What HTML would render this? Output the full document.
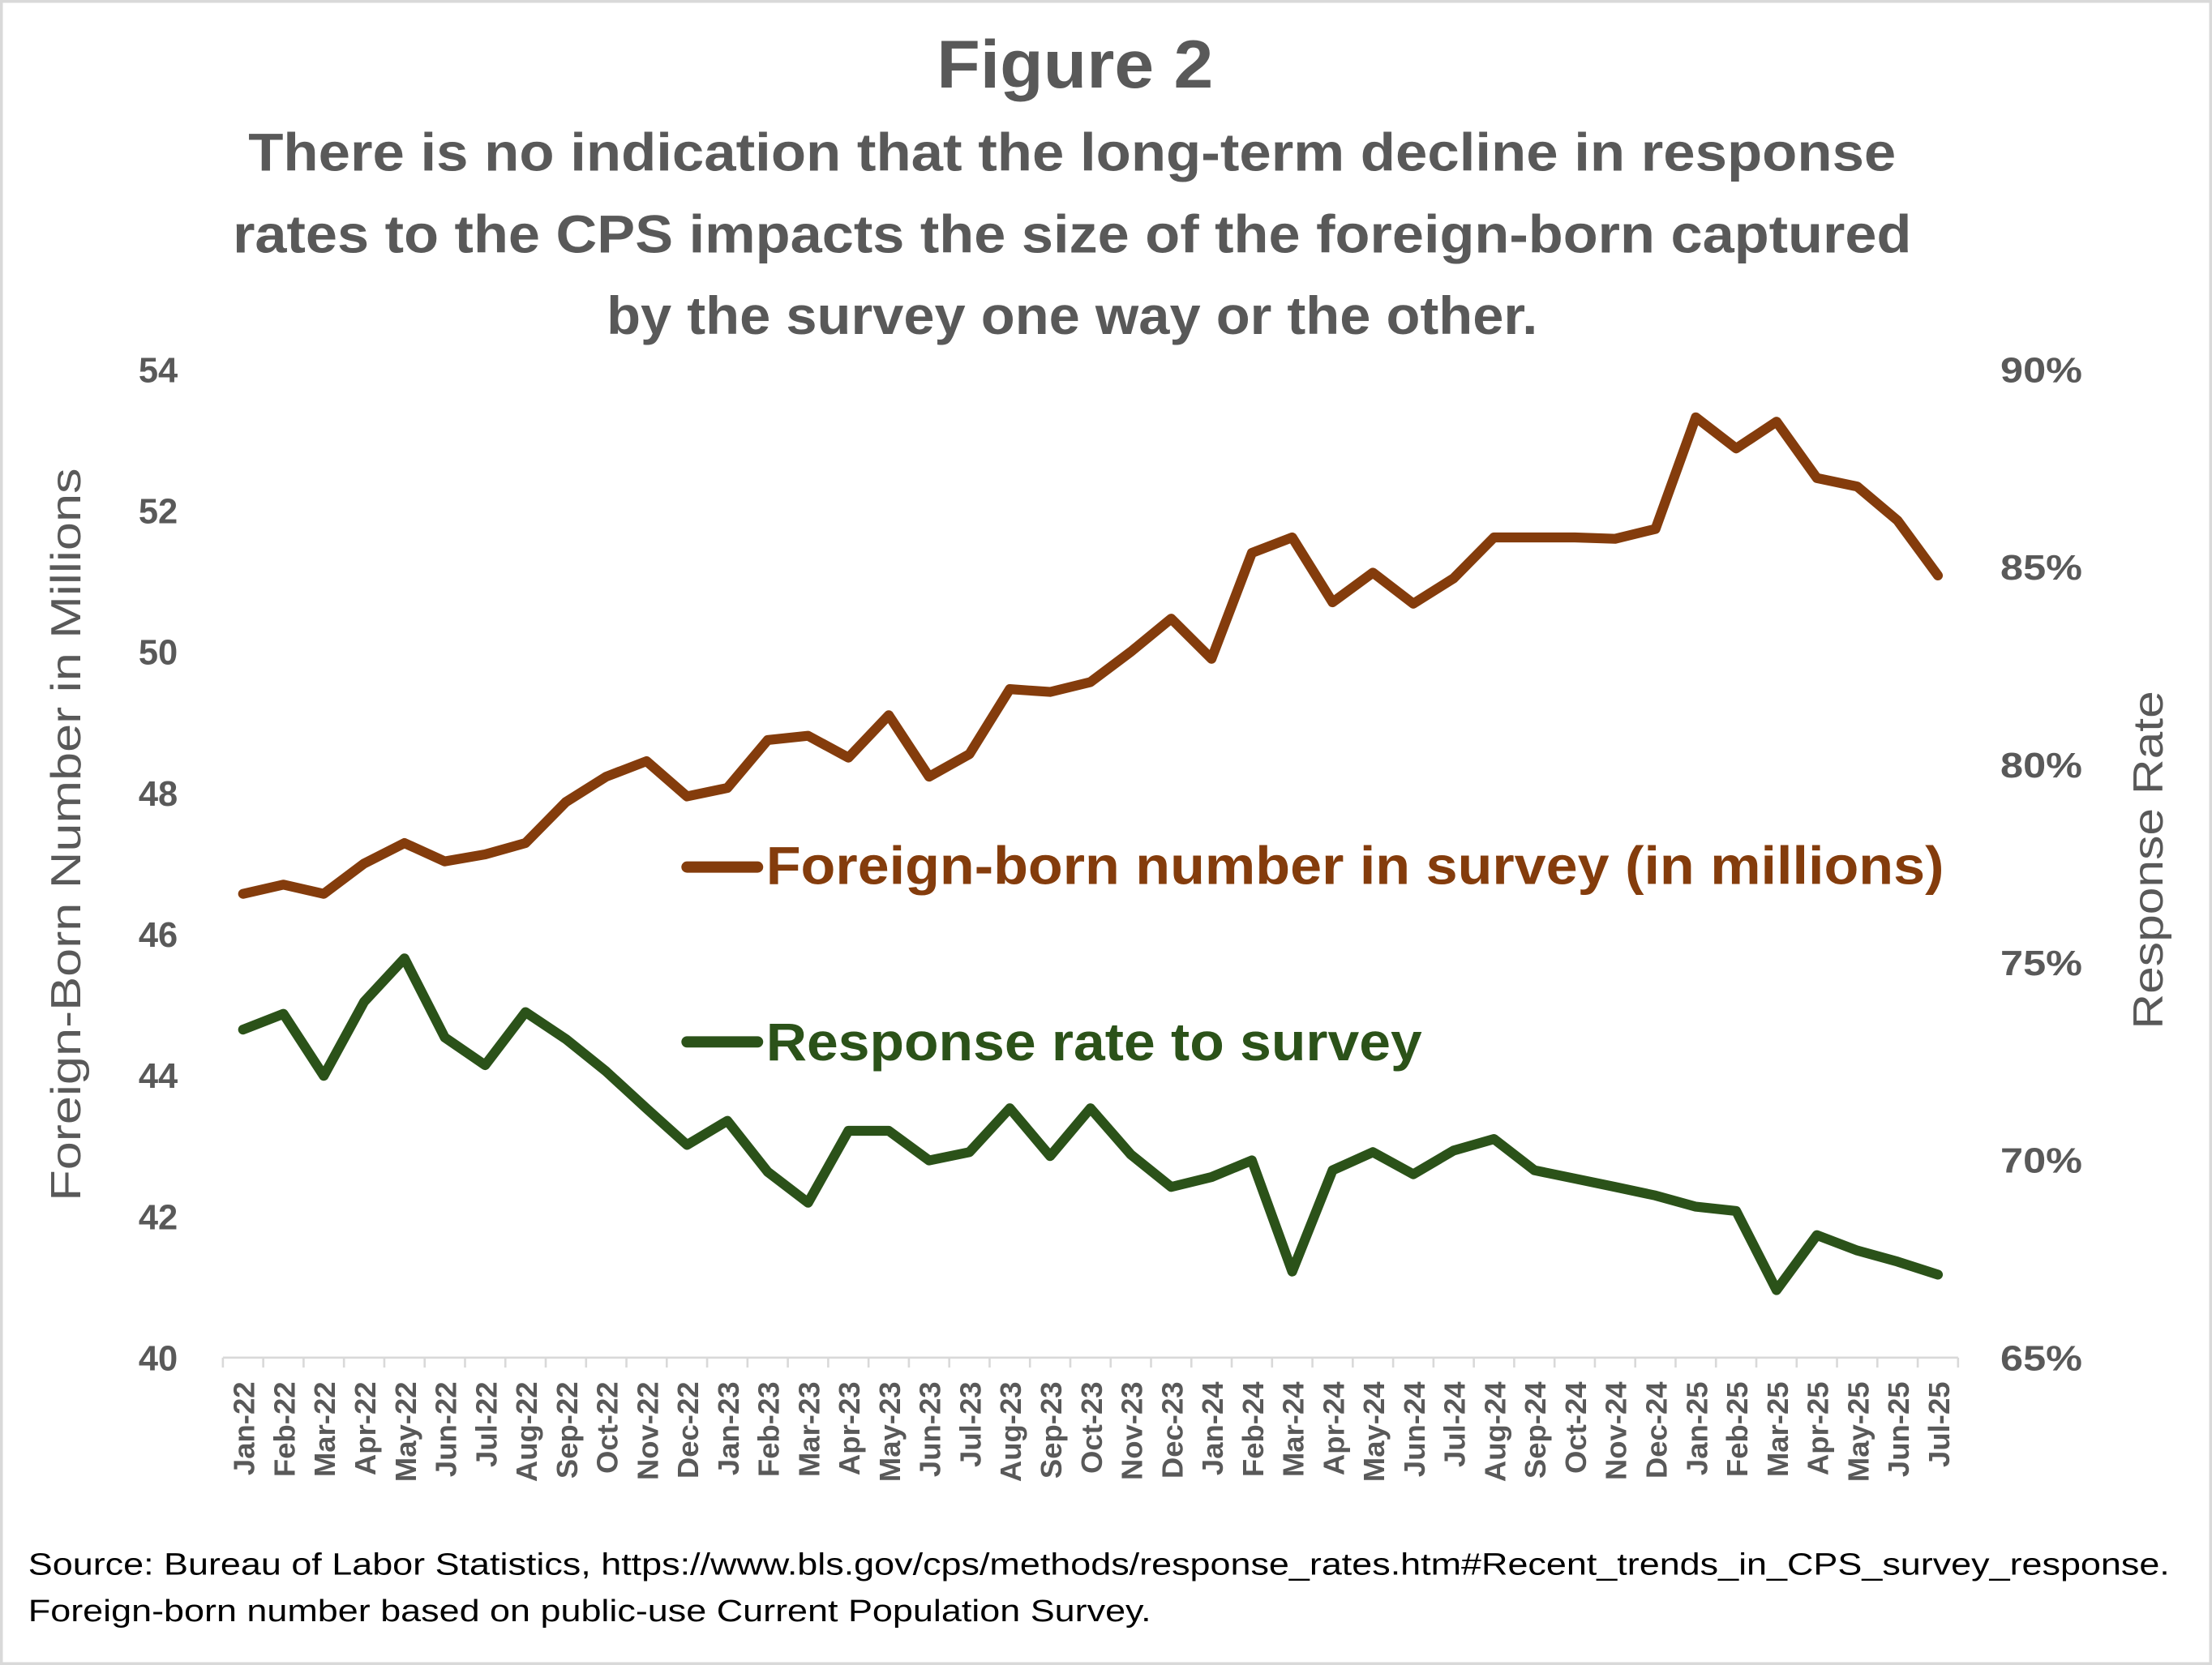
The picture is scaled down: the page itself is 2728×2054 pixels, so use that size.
<!DOCTYPE html>
<html><head><meta charset="utf-8"><style>
html,body{margin:0;padding:0;background:#fff}
svg{display:block}
text{font-family:"Liberation Sans",sans-serif}
</style></head><body>
<svg id="chart" width="2728" height="2054" viewBox="0 0 1568 1181" preserveAspectRatio="none" xmlns="http://www.w3.org/2000/svg">
<rect x="1" y="1" width="1566" height="1179" fill="#fff" stroke="#d9d9d9" stroke-width="2"/>
<text x="762" y="62" text-anchor="middle" font-size="48" font-weight="bold" fill="#595959" textLength="196" lengthAdjust="spacingAndGlyphs">Figure 2</text>
<g font-size="38" font-weight="bold" fill="#595959" text-anchor="middle">
<text x="760" y="121" textLength="1168" lengthAdjust="spacingAndGlyphs">There is no indication that the long-term decline in response</text>
<text x="760" y="179" textLength="1190" lengthAdjust="spacingAndGlyphs">rates to the CPS impacts the size of the foreign-born captured</text>
<text x="760" y="237" textLength="660" lengthAdjust="spacingAndGlyphs">by the survey one way or the other.</text>
</g>
<text transform="translate(57,592) rotate(-90)" text-anchor="middle" font-size="30" fill="#595959" textLength="520" lengthAdjust="spacingAndGlyphs">Foreign-Born Number in Millions</text>
<text transform="translate(1533,610) rotate(-90)" text-anchor="middle" font-size="30" fill="#595959" textLength="240" lengthAdjust="spacingAndGlyphs">Response Rate</text>
<g id="axes"></g>
<g id="series"></g>
<g>
<line x1="487" y1="615" x2="537" y2="615" stroke="#843C0C" stroke-width="8" stroke-linecap="round"/>
<text x="543" y="627" font-size="38" font-weight="bold" fill="#843C0C" textLength="835" lengthAdjust="spacingAndGlyphs">Foreign-born number in survey (in millions)</text>
<line x1="487" y1="739" x2="537" y2="739" stroke="#2B5219" stroke-width="8" stroke-linecap="round"/>
<text x="543" y="752" font-size="38" font-weight="bold" fill="#2B5219" textLength="465" lengthAdjust="spacingAndGlyphs">Response rate to survey</text>
</g>
<g font-size="22" fill="#000">
<text x="20" y="1117" textLength="1518" lengthAdjust="spacingAndGlyphs">Source: Bureau of Labor Statistics, https://www.bls.gov/cps/methods/response_rates.htm#Recent_trends_in_CPS_survey_response.</text>
<text x="20" y="1150" textLength="796" lengthAdjust="spacingAndGlyphs">Foreign-born number based on public-use Current Population Survey.</text>
</g>
</svg>
<script>
const categories = ["Jan-22","Feb-22","Mar-22","Apr-22","May-22","Jun-22","Jul-22","Aug-22","Sep-22","Oct-22","Nov-22","Dec-22","Jan-23","Feb-23","Mar-23","Apr-23","May-23","Jun-23","Jul-23","Aug-23","Sep-23","Oct-23","Nov-23","Dec-23","Jan-24","Feb-24","Mar-24","Apr-24","May-24","Jun-24","Jul-24","Aug-24","Sep-24","Oct-24","Nov-24","Dec-24","Jan-25","Feb-25","Mar-25","Apr-25","May-25","Jun-25","Jul-25"];
const foreignBorn = [46.57,46.7,46.57,47.0,47.29,47.03,47.13,47.29,47.87,48.23,48.45,47.95,48.07,48.75,48.81,48.5,49.1,48.23,48.55,49.47,49.43,49.57,50.0,50.47,49.9,51.4,51.62,50.7,51.12,50.68,51.04,51.62,51.62,51.62,51.6,51.74,53.32,52.88,53.26,52.46,52.34,51.86,51.08];
const responseRate = [73.3,73.7,72.13,74.0,75.1,73.1,72.4,73.74,73.06,72.24,71.3,70.38,70.99,69.7,68.92,70.74,70.74,69.99,70.2,71.31,70.1,71.31,70.14,69.32,69.57,69.99,67.18,69.74,70.2,69.64,70.24,70.53,69.74,69.53,69.32,69.1,68.82,68.71,66.71,68.1,67.71,67.43,67.1];
const leftTicks = [40,42,44,46,48,50,52,54];
const rightTicks = [65,70,75,80,85,90];

const NS = "http://www.w3.org/2000/svg";
const plotTop = 262, plotBottom = 963, plotLeft = 158, plotRight = 1388;
const step = (plotRight - plotLeft) / categories.length;
const xPos = i => plotLeft + step * (i + 0.5);
const yLeft = v => plotBottom - (v - 40) / 14 * (plotBottom - plotTop);
const yRight = v => plotBottom - (v - 65) / 25 * (plotBottom - plotTop);
function mk(tag, attrs, parent) {
  const e = document.createElementNS(NS, tag);
  for (const k in attrs) e.setAttribute(k, attrs[k]);
  parent.appendChild(e);
  return e;
}
const axes = document.getElementById("axes");
const xAxis = mk("line", {x1: plotLeft, y1: plotBottom, x2: plotRight, y2: plotBottom, stroke: "#d9d9d9", "stroke-width": 1.5}, axes);


for (let i = 0; i <= categories.length; i++) {
  const x = plotLeft + step * i;
  const t = mk("line", {x1: x, y1: plotBottom, x2: x, y2: plotBottom + 7, stroke: "#d9d9d9", "stroke-width": 1.5}, axes);
  
  
}
categories.forEach((c, i) => {
  const t = mk("text", {transform: `translate(${xPos(i) + 8},980) rotate(-90)`, "text-anchor": "end", "font-size": 21, "font-weight": "bold", fill: "#595959"}, axes);
  t.textContent = c;
  
  
});
leftTicks.forEach(v => {
  const t = mk("text", {x: 126, y: yLeft(v) + 9, "text-anchor": "end", "font-size": 25, "font-weight": "bold", fill: "#595959"}, axes);
  t.textContent = v;
  
  
});
rightTicks.forEach(v => {
  const t = mk("text", {x: 1418, y: yRight(v) + 9, "font-size": 25, "font-weight": "bold", fill: "#595959", textLength: 58, lengthAdjust: "spacingAndGlyphs"}, axes);
  t.textContent = v + "%";
  
  
});
const series = document.getElementById("series");
const fbPts = foreignBorn.map((v, i) => xPos(i).toFixed(1) + "," + yLeft(v).toFixed(1)).join(" ");
const fb = mk("polyline", {points: fbPts, fill: "none", stroke: "#843C0C", "stroke-width": 7, "stroke-linejoin": "round", "stroke-linecap": "round"}, series);


const rrPts = responseRate.map((v, i) => xPos(i).toFixed(1) + "," + yRight(v).toFixed(1)).join(" ");
const rr = mk("polyline", {points: rrPts, fill: "none", stroke: "#2B5219", "stroke-width": 7, "stroke-linejoin": "round", "stroke-linecap": "round"}, series);


</script>
</body></html>
